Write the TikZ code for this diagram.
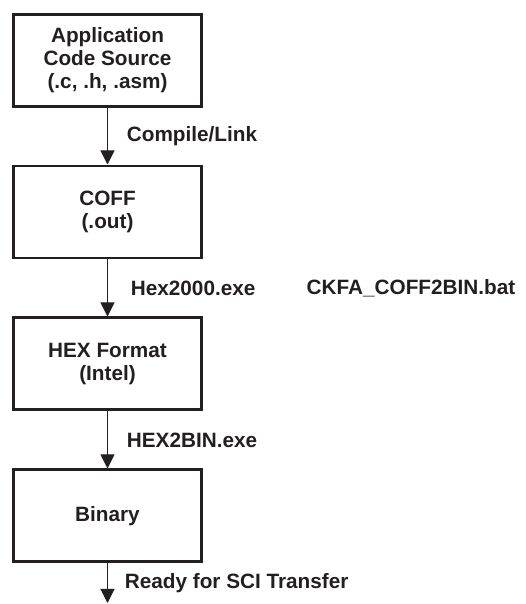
\documentclass[tikz,border=0pt]{standalone}
\usepackage{fontspec}
\setmainfont{Liberation Sans}
\usetikzlibrary{positioning, arrows.meta}
\definecolor{inkgray}{HTML}{231F20}

\begin{document}
\begin{tikzpicture}[
  stagebox/.style={draw=inkgray, line width=1.7pt, minimum width=3.76cm, minimum height=1.84cm,
    align=center, text=inkgray, font=\fontsize{11.8}{13.2}\selectfont\bfseries},
  flowarrow/.style={draw=inkgray, line width=0.6pt, -{Triangle[length=8pt, width=8pt]}},
  steplabel/.style={text=inkgray, font=\fontsize{11.8}{13.2}\selectfont\bfseries, anchor=west},
  node distance=1.14cm
]
\useasboundingbox (0,0) rectangle (10.52,-12.08);

% stages
\node[stagebox] (source) at (2.15,-1.2) {Application\\Code Source\\(.c, .h, .asm)};
\node[stagebox, below=of source] (coff) {COFF\\(.out)};
\node[stagebox, below=of coff] (hex) {HEX Format\\(Intel)};
\node[stagebox, below=of hex] (binary) {Binary};
\coordinate (sci) at (2.15,-12.06);

% conversions
\draw[flowarrow] (source) -- node[steplabel, xshift=0.26cm, pos=0.5] (link) {Compile/Link} (coff);
\draw[flowarrow] (coff) -- node[steplabel, xshift=0.34cm, pos=0.5] (hexexe) {Hex2000.exe} (hex);
\draw[flowarrow] (hex) -- node[steplabel, xshift=0.26cm, pos=0.5] (binexe) {HEX2BIN.exe} (binary);
\draw[flowarrow] (binary) -- node[steplabel, xshift=0.22cm, pos=0.5] (ready) {Ready for SCI Transfer} (sci);

\node[steplabel, right=3.52cm of hexexe.west] (batch) {CKFA\_COFF2BIN.bat};

\end{tikzpicture}
\end{document}
